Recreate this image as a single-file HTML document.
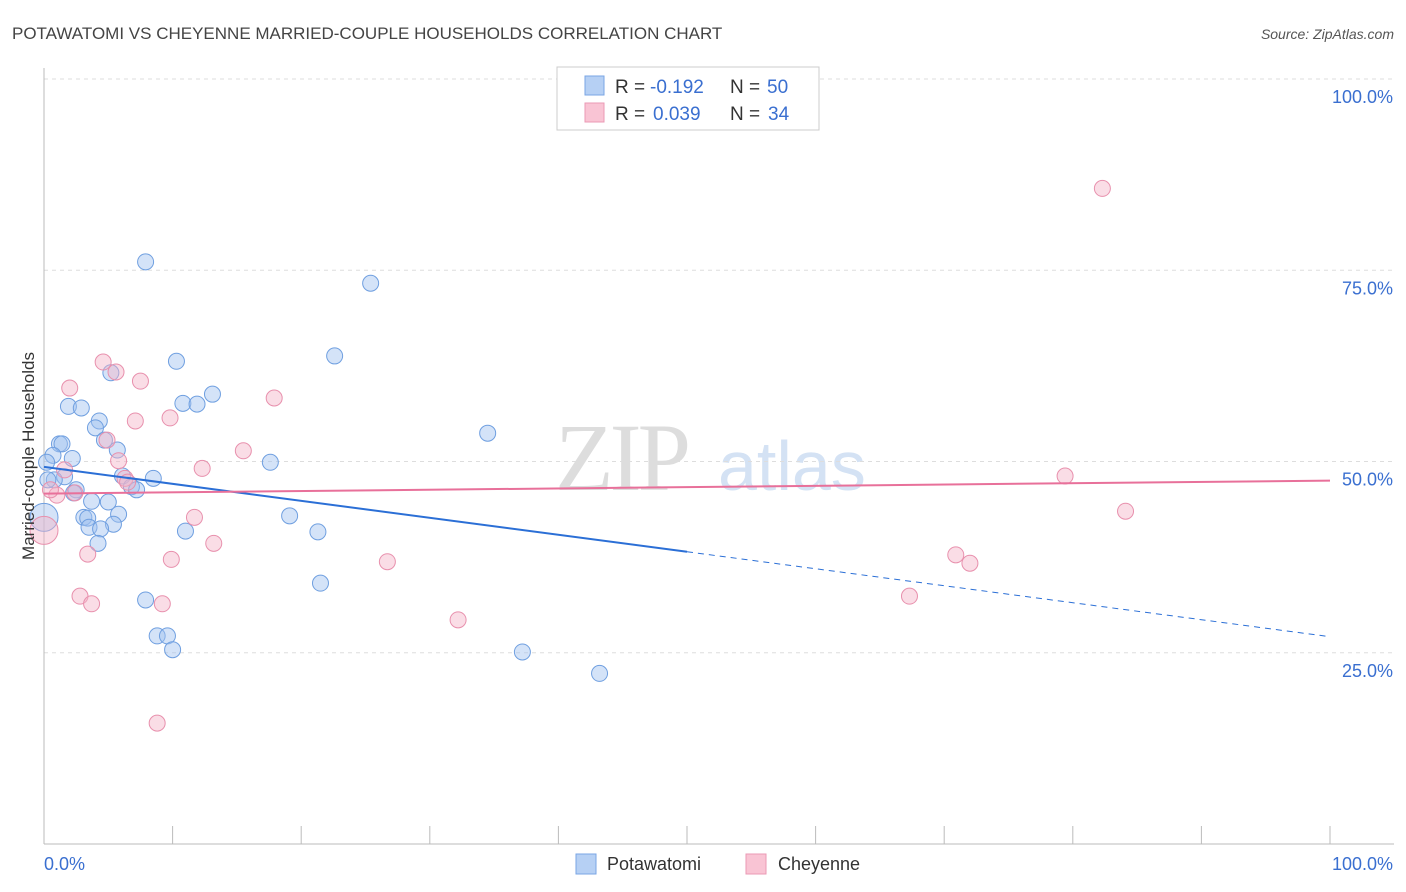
<!DOCTYPE html>
<html><head><meta charset="utf-8"><style>
body{margin:0;background:#fff;font-family:"Liberation Sans",sans-serif;}
</style></head><body>
<svg id="chart" width="1406" height="892" xmlns="http://www.w3.org/2000/svg" style="display:block">
<text x="12" y="39" font-size="17" fill="#444">POTAWATOMI VS CHEYENNE MARRIED-COUPLE HOUSEHOLDS CORRELATION CHART</text>
<text x="1394" y="39" font-size="14" fill="#555" text-anchor="end" font-style="italic">Source: ZipAtlas.com</text>
<g>
<text x="555" y="490" font-size="96" fill="#ddd" font-family="Liberation Serif,serif" letter-spacing="-4">ZIP</text>
<text x="718" y="490" font-size="70" fill="#d4e2f4">atlas</text>
</g>
<g id="grid"></g>
<g id="axes"></g>
<g id="marks"></g>
<text transform="translate(34,456) rotate(-90)" font-size="17" fill="#333" text-anchor="middle">Married-couple Households</text>
<g font-size="19">
<rect x="557" y="67" width="262" height="63" fill="#fff" stroke="#ccc"/>
<rect x="585" y="76" width="19" height="19" fill="#b6d0f4" stroke="#7aa6e4"/>
<rect x="585" y="103" width="19" height="19" fill="#f9c4d4" stroke="#eb9ab5"/>
<text x="615" y="93" fill="#333">R =</text>
<text x="650" y="93" fill="#3a6fd0">-0.192</text>
<text x="730" y="93" fill="#333">N =</text>
<text x="767" y="93" fill="#3a6fd0">50</text>
<text x="615" y="120" fill="#333">R =</text>
<text x="653" y="120" fill="#3a6fd0">0.039</text>
<text x="730" y="120" fill="#333">N =</text>
<text x="768" y="120" fill="#3a6fd0">34</text>
</g>
<g>
<rect x="576" y="854" width="20" height="20" fill="#b6d0f4" stroke="#7aa6e4"/>
<text x="607" y="870" font-size="18" fill="#333">Potawatomi</text></g>
<g>
<rect x="746" y="854" width="20" height="20" fill="#f9c4d4" stroke="#eb9ab5"/>
<text x="778" y="870" font-size="18" fill="#333">Cheyenne</text></g>
</svg>
<script>
const blueX=[7.9,25.4,22.6,10.3,5.2,13.1,10.8,11.9,1.9,2.9,4.3,4.0,34.5,1.2,1.4,4.7,5.7,0.7,2.2,17.6,1.6,0.8,6.1,8.5,6.8,2.5,2.3,7.2,3.7,5.0,19.1,5.8,3.1,3.4,5.4,3.5,4.4,11.0,21.3,4.2,21.5,7.9,8.8,9.6,10.0,37.2,43.2,0,0.2,0.3];
const blueY=[76.1,73.3,63.8,63.1,61.6,58.8,57.6,57.5,57.2,57.0,55.3,54.4,53.7,52.3,52.3,52.8,51.5,50.8,50.4,49.9,48.0,47.6,48.1,47.8,46.7,46.3,45.9,46.3,44.8,44.7,42.9,43.1,42.7,42.6,41.8,41.4,41.2,40.9,40.8,39.3,34.1,31.9,27.2,27.2,25.4,25.1,22.3,42.7,49.9,47.6];
const pinkX=[82.3,4.6,5.6,7.5,2.0,17.9,7.1,9.8,4.9,15.5,5.8,1.6,12.3,6.3,79.4,1.0,2.4,84.1,11.7,13.2,3.4,9.9,26.7,70.9,72.0,2.8,67.3,3.7,9.2,32.2,8.8,0,6.5,0.5];
const pinkY=[85.7,63.0,61.7,60.5,59.6,58.3,55.3,55.7,52.8,51.4,50.1,48.9,49.1,47.8,48.1,45.6,45.9,43.5,42.7,39.3,37.9,37.2,36.9,37.8,36.7,32.4,32.4,31.4,31.4,29.3,15.8,41.0,47.3,46.3];
const blueTrend=[49.3,27.1];
const pinkTrend=[45.8,47.5];
const yTicks=[25,50,75,100];
const yTickLabels=["25.0%","50.0%","75.0%","100.0%"];
const xTicks=[0,10,20,30,40,50,60,70,80,90,100];
const NS="http://www.w3.org/2000/svg";
const X=v=>44+v*12.86, Y=v=>844-v*7.65;
function mk(t,a,p){const e=document.createElementNS(NS,t);for(const k in a)e.setAttribute(k,a[k]);p.appendChild(e);return e;}
const grid=document.getElementById('grid'),axes=document.getElementById('axes'),marks=document.getElementById('marks');
yTicks.forEach((v,i)=>{
 const l=mk('line',{x1:44,x2:1394,y1:Y(v),y2:Y(v),stroke:'#ddd','stroke-dasharray':'4,4'},grid);
 
 
 const t=mk('text',{x:1393,y:Y(v)+24,'font-size':18,fill:'#3a6fd0','text-anchor':'end'},axes);
 t.textContent=yTickLabels[i];
 
 
});
mk('line',{x1:44,x2:44,y1:68,y2:844,stroke:'#bbb'},axes);
mk('line',{x1:44,x2:1394,y1:844,y2:844,stroke:'#bbb'},axes);
xTicks.forEach(v=>{const l=mk('line',{x1:X(v),x2:X(v),y1:826,y2:844,stroke:'#bbb'},axes);
 
 });
let t=mk('text',{x:44,y:870,'font-size':18,fill:'#3a6fd0'},axes);t.textContent='0.0%';


t=mk('text',{x:1393,y:870,'font-size':18,fill:'#3a6fd0','text-anchor':'end'},axes);t.textContent='100.0%';


function pts(xs,ys,fill,stroke,name){xs.forEach((x,i)=>{
 const r=(x===0)?14:8;
 const c=mk('circle',{cx:X(x),cy:Y(ys[i]),r:r,fill:fill,'fill-opacity':0.45,stroke:stroke,'stroke-width':1},marks);
 
 });}
pts(blueX,blueY,'#9fc1ef','#6f9fe0','potawatomi-point');
pts(pinkX,pinkY,'#f5b3c8','#e890ad','cheyenne-point');
const bm=blueTrend[0]+(blueTrend[1]-blueTrend[0])*0.5;
let l=mk('line',{x1:X(0),y1:Y(blueTrend[0]),x2:X(50),y2:Y(bm),stroke:'#2b6fd6','stroke-width':2},marks);


l=mk('line',{x1:X(50),y1:Y(bm),x2:X(100),y2:Y(blueTrend[1]),stroke:'#2b6fd6','stroke-width':1,'stroke-dasharray':'6,5'},marks);


l=mk('line',{x1:X(0),y1:Y(pinkTrend[0]),x2:X(100),y2:Y(pinkTrend[1]),stroke:'#e8709a','stroke-width':2},marks);


</script>
</body></html>
